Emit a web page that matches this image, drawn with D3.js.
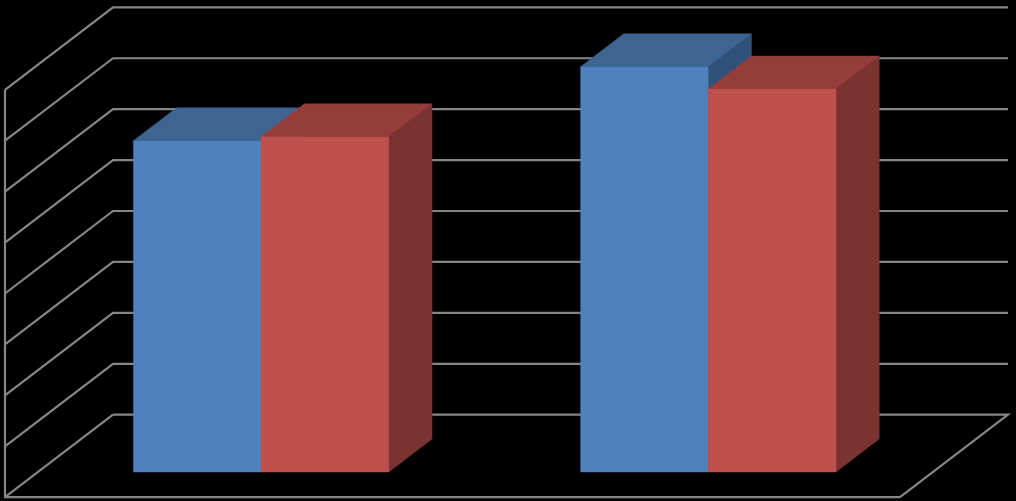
<!DOCTYPE html>
<html><head><meta charset="utf-8">
<script src="https://cdn.jsdelivr.net/npm/d3@7/dist/d3.min.js"></script>
<style>html,body{margin:0;padding:0;background:#000;overflow:hidden}svg{display:block}</style>
</head><body><svg id="c" width="1016" height="501"></svg>
<script>
const categories = ["Category 1", "Category 2"];
const seriesNames = ["Series 1", "Series 2"];
const series1 = [6.505, 7.96];
const series2 = [6.584, 7.52];
const tickValues = [0, 1, 2, 3, 4, 5, 6, 7, 8];
const frontFill = ["#4f81bd", "#c0504d"];
const topFill = ["#3e6591", "#943d3a"];
const sideFill = ["#30527a", "#7b3331"];
const gridColor = "#868686";

const svg = d3.select("#c");
const y = d3.scaleLinear().domain([0, 8]).range([497.2, 89.8]);
const d = d3.scaleLinear().domain([0, 1]).range([0, 108]);
const dy = d3.scaleLinear().domain([0, 1]).range([0, -82.5]);
const wall = d3.scalePoint().domain(["left", "right"]).range([5, 900]);
const x = d3.scaleBand().domain(categories).range([4.6, 899]);
const inner = d3.scaleBand().domain(seriesNames).range([0, 255.5]);
const P = (px, v, t) => [px + d(t), y(v) + dy(t)];
const path = pts => "M" + pts.map(p => p.join(",")).join("L") + "Z";
const line = d3.line();
const L = wall("left"), R = wall("right");

const grid = svg.append("g").attr("fill", "none").attr("stroke", gridColor).attr("stroke-width", 2.2);
tickValues.forEach(v => {
  const pts = v === 0
    ? [P(L, 0, 1), P(R, 0, 1), P(R, 0, 0)]
    : [P(L, v, 0), P(L, v, 1), P(R, v, 1)];
  grid.append("path").attr("d", line(pts));
});
grid.append("path").attr("d", line([P(L, 8, 0), P(L, 0, 0), P(R, 0, 0)]));
grid.append("path").attr("d", line([P(L, 0, 0), P(L, 0, 1)]));

const t0 = 0.305, t1 = 0.705;
categories.forEach((c, i) => {
  const gx = x(c) + x.bandwidth() / 2 - inner.range()[1] / 2;
  [series1, series2].forEach((vals, s) => {
    const v = vals[i];
    const xl = gx + inner(seriesNames[s]);
    const xr = xl + inner.bandwidth();
    const g = svg.append("g").attr("stroke-width", 0.4);
    g.append("path").attr("fill", sideFill[s]).attr("stroke", sideFill[s])
      .attr("d", path([P(xr, v, t0), P(xr, v, t1), P(xr, 0, t1), P(xr, 0, t0)]));
    g.append("path").attr("fill", topFill[s]).attr("stroke", topFill[s])
      .attr("d", path([P(xl, v, t0), P(xl, v, t1), P(xr, v, t1), P(xr, v, t0)]));
    g.append("path").attr("fill", frontFill[s]).attr("stroke", frontFill[s])
      .attr("d", path([P(xl, v, t0), P(xr, v, t0), P(xr, 0, t0), P(xl, 0, t0)]));
  });
});
</script></body></html>
